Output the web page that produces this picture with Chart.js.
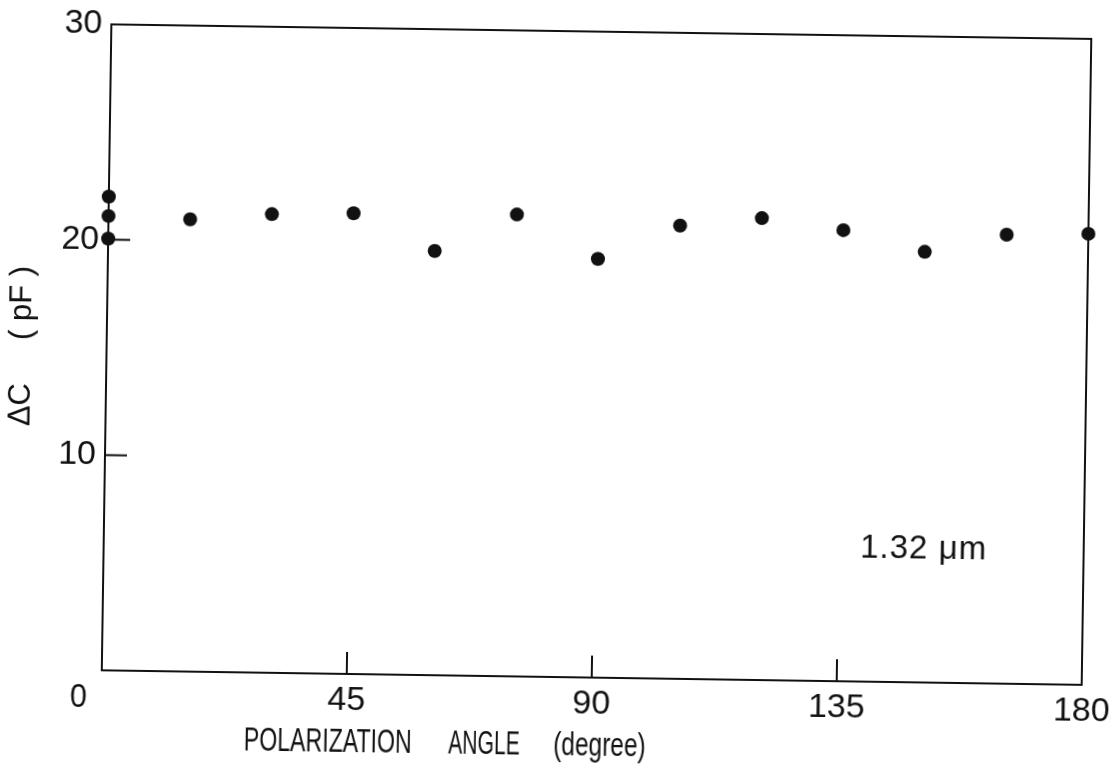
<!DOCTYPE html>
<html>
<head>
<meta charset="utf-8">
<title>ΔC - polarization angle</title>
<script src="https://cdn.jsdelivr.net/npm/chart.js@4.4.1/dist/chart.umd.min.js"></script>
<style>
  html, body { margin: 0; padding: 0; background: #fff; overflow: hidden; }
  /* the plot sheet sits a little askew */
  #grafik { display: block; transform: rotate(0.85deg); transform-origin: 554.5px 390px; }
</style>
</head>
<body>
<canvas id="grafik" width="1124" height="780"></canvas>
<script>
/* OLCUM VERILERI */
var acilar = [0, 0, 0, 15, 30, 45, 60, 75, 90, 105, 120, 135, 150, 165, 180];
var deltaC = [22.0, 21.1, 20.05, 21.0, 21.3, 21.4, 19.7, 21.45, 19.45, 21.05, 21.45, 20.95, 20.0, 20.85, 20.95];
var xTikler = [0, 45, 90, 135, 180];
var yTikler = [0, 10, 20, 30];
var dalgaBoyu = "1.32 μm";
var xBaslikKelimeleri = ["POLARIZATION", "ANGLE", "(degree)"];
var yBaslik = "ΔC     ( pF )";
/* OLCUM VERILERI */

var cizgiRengi = "#111";
var yaziTipi = "'Liberation Sans', Arial, sans-serif";

Chart.defaults.font.family = yaziTipi;
Chart.defaults.color = "#111";

var noktalar = [];
for (var i = 0; i < acilar.length; i++) {
  noktalar.push({x: acilar[i], y: deltaC[i]});
}

function tikleriKoy(liste) {
  return function (olcek) {
    olcek.ticks = liste.map(function (v) { return {value: v}; });
  };
}

// fixed box sizes, and no extra room for the end labels
function sabitGenislik(w) {
  return function (olcek) {
    olcek.width = w;
    olcek.paddingTop = 0; olcek.paddingBottom = 0;
  };
}
function sabitYukseklik(h) {
  return function (olcek) {
    olcek.height = h;
    olcek.paddingLeft = 0; olcek.paddingRight = 0;
  };
}

// narrow lettering: squeeze the text sideways around its centre
function darYaz(ctx, metin, x, y, sikistir) {
  ctx.save();
  ctx.translate(x, y);
  ctx.scale(sikistir, 1);
  ctx.fillText(metin, 0, 0);
  ctx.restore();
}

// inward tick marks, origin "0", x title and the wavelength note
var icTikler = {
  id: "icTikler",
  afterDraw: function (chart) {
    var ctx = chart.ctx;
    var x = chart.scales.x, y = chart.scales.y;
    var alan = chart.chartArea;
    ctx.save();
    ctx.strokeStyle = cizgiRengi;
    ctx.lineWidth = 2;
    ctx.beginPath();
    xTikler.forEach(function (v) {
      if (v <= x.min || v >= x.max) return;
      var px = x.getPixelForValue(v);
      ctx.moveTo(px, alan.bottom);
      ctx.lineTo(px, alan.bottom - 22);
    });
    yTikler.forEach(function (v) {
      if (v <= y.min || v >= y.max) return;
      var py = y.getPixelForValue(v);
      ctx.moveTo(alan.left, py);
      ctx.lineTo(alan.left + 22, py);
    });
    ctx.stroke();

    ctx.fillStyle = "#111";
    ctx.textAlign = "center";
    ctx.textBaseline = "middle";
    ctx.font = "34px " + yaziTipi;
    darYaz(ctx, "0", alan.left - 23, alan.bottom + 28, 0.9);

    // x axis title, word by word
    ctx.font = "34px " + yaziTipi;
    var kelimeYerleri = [41.7, 70.4, 91.6];
    var kelimeEni = [0.68, 0.62, 0.72];
    xBaslikKelimeleri.forEach(function (k, j) {
      darYaz(ctx, k, x.getPixelForValue(kelimeYerleri[j]), alan.bottom + 69, kelimeEni[j]);
    });

    ctx.font = "33px " + yaziTipi;
    ctx.letterSpacing = "1px";
    ctx.fillText(dalgaBoyu, x.getPixelForValue(150.6), y.getPixelForValue(6.2));
    ctx.restore();
  }
};

var ctx = document.getElementById("grafik");
var grafik = new Chart(ctx, {
  type: "scatter",
  data: {
    datasets: [{
      data: noktalar,
      backgroundColor: "#111",
      borderWidth: 0,
      pointRadius: 7,
      pointHoverRadius: 7,
      clip: false
    }]
  },
  options: {
    responsive: false,
    animation: false,
    layout: { padding: 0, autoPadding: false },
    plugins: {
      legend: { display: false },
      tooltip: { enabled: false }
    },
    scales: {
      x: {
        type: "linear",
        position: "bottom",
        min: 0,
        max: 180,
        afterBuildTicks: tikleriKoy(xTikler),
        afterFit: sabitYukseklik(103),
        grid: { display: true, drawOnChartArea: false, drawTicks: false },
        border: { display: true, color: cizgiRengi, width: 2 },
        ticks: {
          padding: 6,
          maxRotation: 0,
          font: { size: 34 },
          callback: function (v) { return v === 0 ? "" : v; }
        }
      },
      y: {
        type: "linear",
        position: "left",
        min: 0,
        max: 30,
        afterBuildTicks: tikleriKoy(yTikler),
        afterFit: sabitGenislik(106),
        grid: { display: true, drawOnChartArea: false, drawTicks: false },
        border: { display: true, color: cizgiRengi, width: 2 },
        ticks: {
          padding: 9,
          font: { size: 34 },
          callback: function (v) { return v === 0 ? "" : v; }
        },
        title: {
          display: true,
          text: yBaslik,
          font: { size: 31 },
          padding: { top: 3, bottom: 0 }
        }
      },
      x2: {
        type: "linear",
        position: "top",
        min: 0,
        max: 180,
        afterFit: sabitYukseklik(31),
        grid: { drawOnChartArea: false, drawTicks: false },
        border: { display: true, color: cizgiRengi, width: 2 },
        ticks: { display: false }
      },
      y2: {
        type: "linear",
        position: "right",
        min: 0,
        max: 30,
        afterFit: sabitGenislik(38),
        grid: { drawOnChartArea: false, drawTicks: false },
        border: { display: true, color: cizgiRengi, width: 2 },
        ticks: { display: false }
      }
    }
  },
  plugins: [icTikler]
});
</script>
</body>
</html>
